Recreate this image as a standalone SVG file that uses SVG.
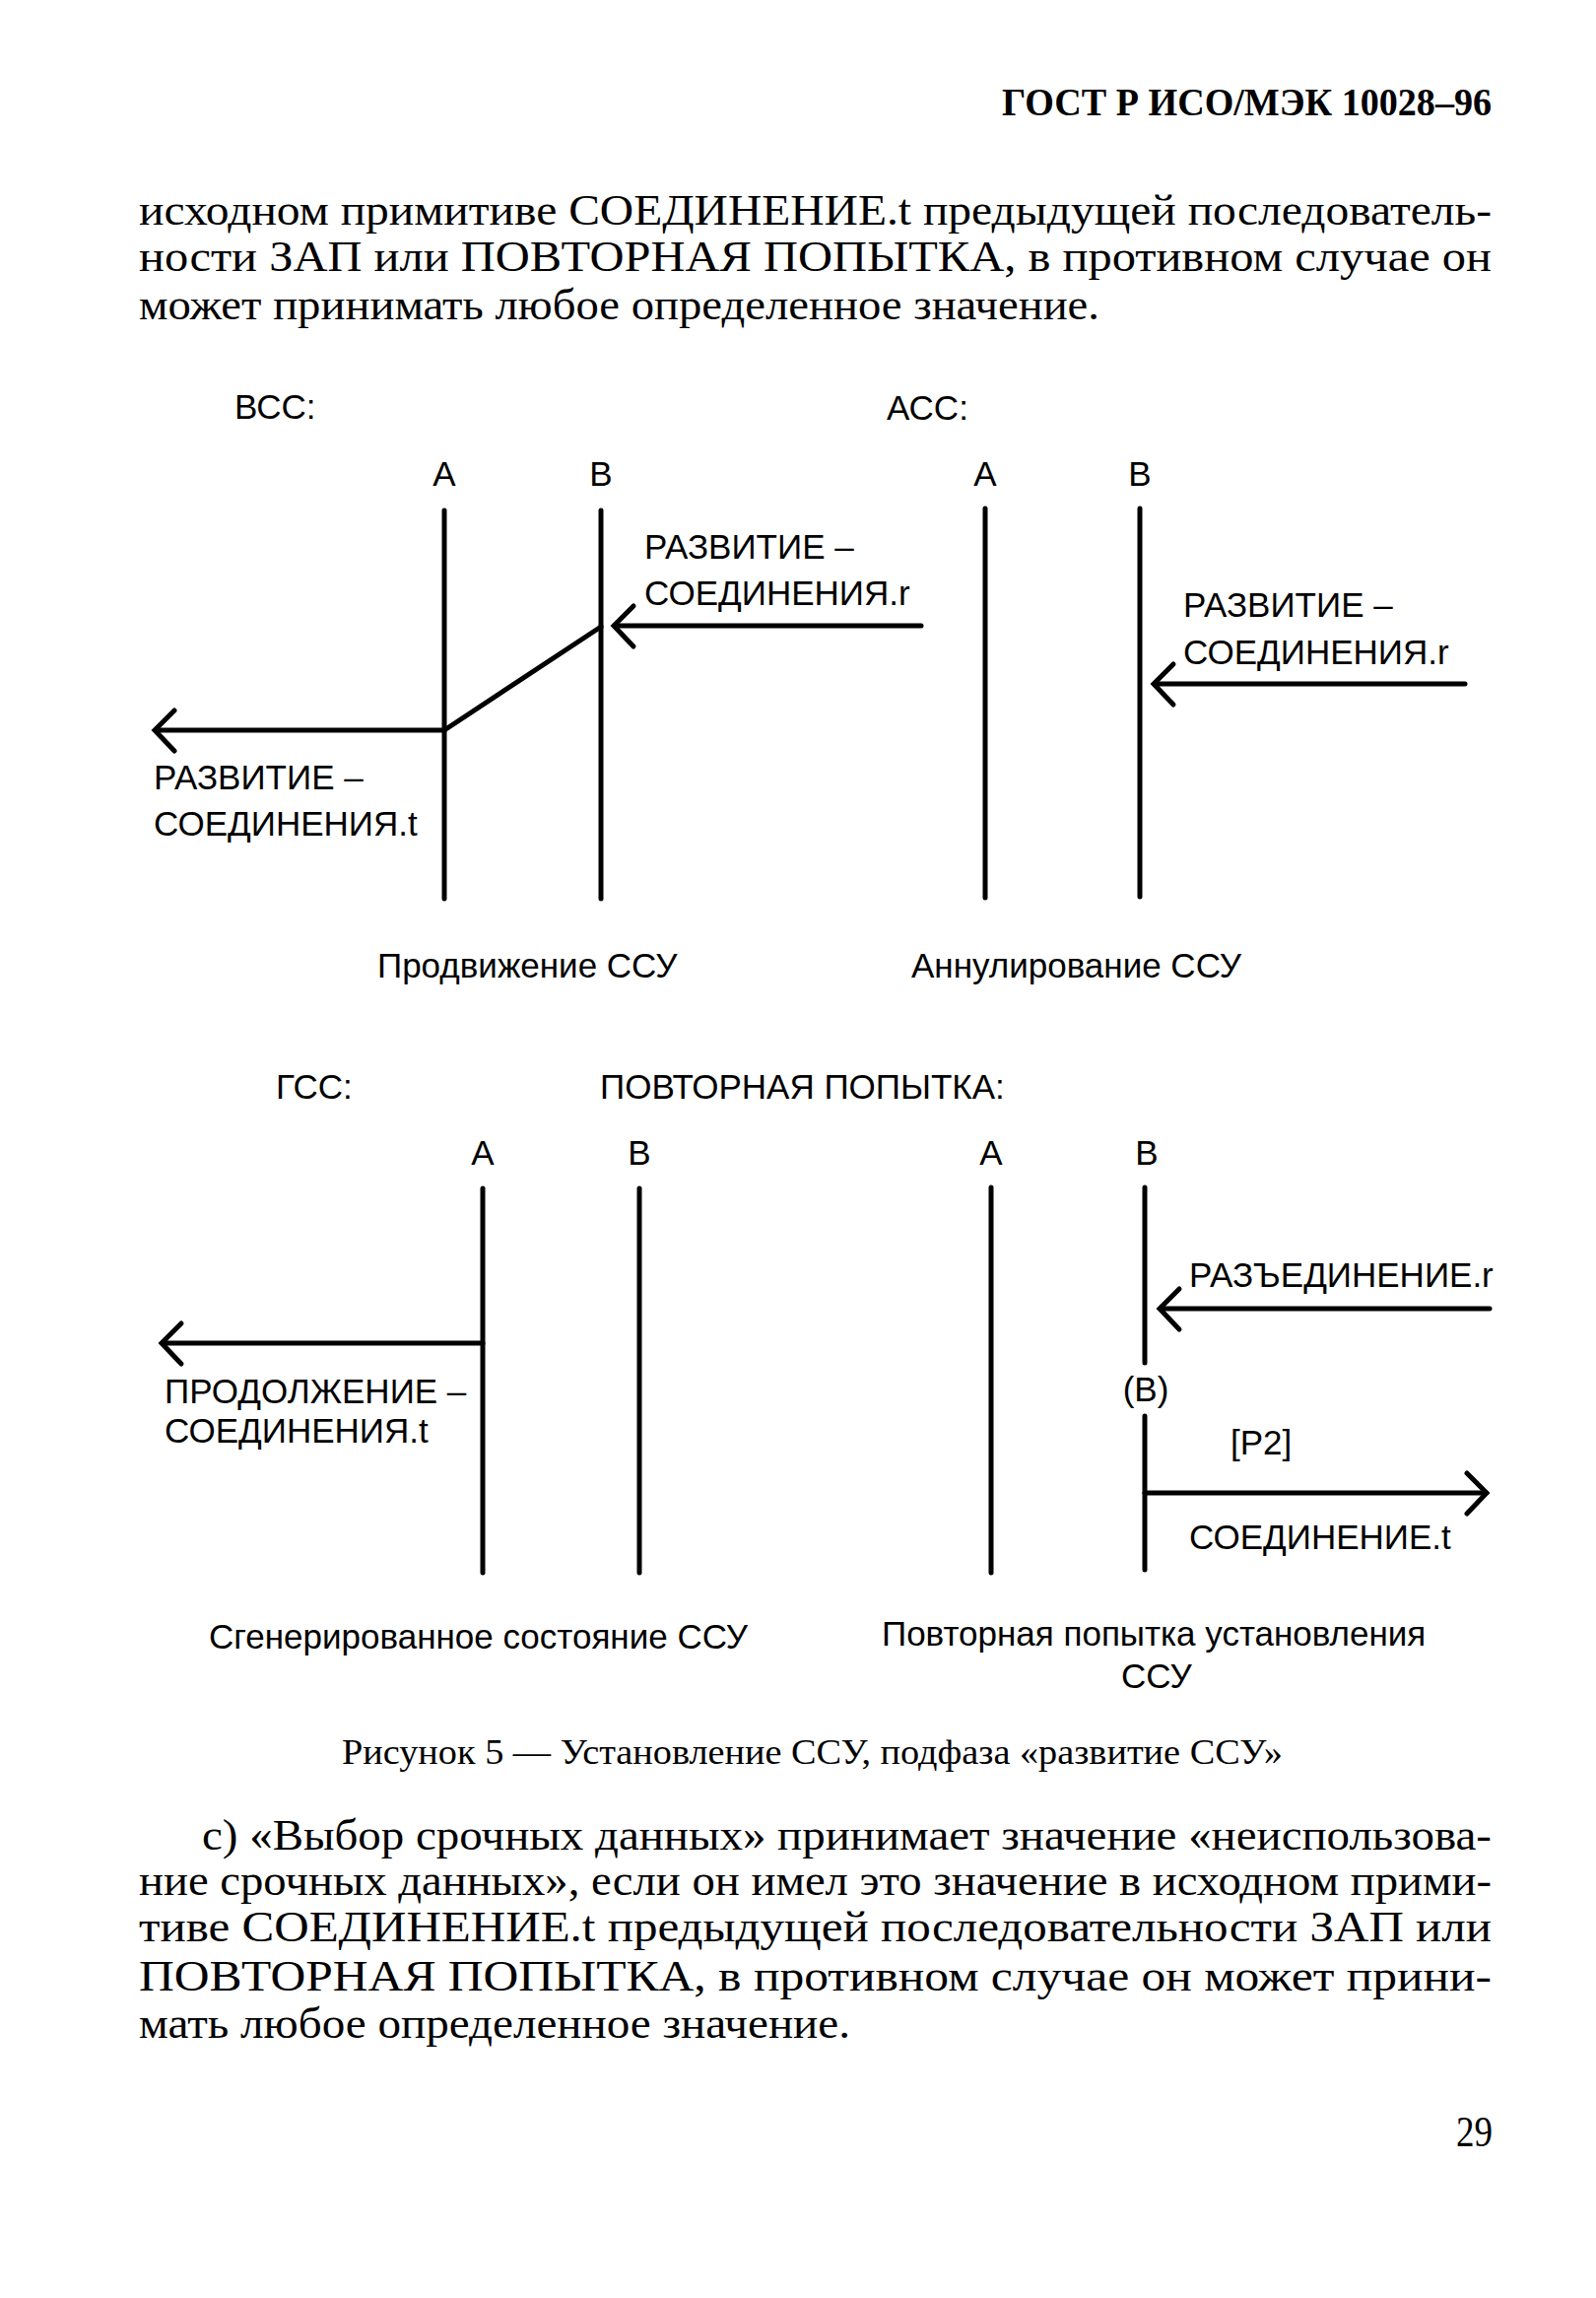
<svg xmlns="http://www.w3.org/2000/svg" width="1620" height="2332" viewBox="0 0 1620 2332">
<style>
.body{font-family:"Liberation Serif","Times New Roman",serif;font-size:44px;fill:#000}
.hdr{font-family:"Liberation Serif","Times New Roman",serif;font-size:40px;font-weight:bold;fill:#000}
.cap{font-family:"Liberation Serif","Times New Roman",serif;font-size:36px;fill:#000}
.lbl{font-family:"Liberation Sans",Arial,sans-serif;font-size:35px;fill:#000}
.mid{text-anchor:middle}
.ll{stroke:#000;stroke-width:5;fill:none;stroke-linecap:round}
.ar{stroke:#000;stroke-width:5;fill:none;stroke-linecap:round;stroke-linejoin:miter}
</style>
<rect width="1620" height="2332" fill="#fff"/>

<g id="page-text">
<text class="hdr" x="1017" y="117" textLength="497" lengthAdjust="spacingAndGlyphs">ГОСТ Р ИСО/МЭК 10028–96</text>
<text class="body" x="141" y="228" textLength="1373" lengthAdjust="spacingAndGlyphs">исходном примитиве СОЕДИНЕНИЕ.t предыдущей последователь-</text>
<text class="body" x="141" y="275" textLength="1373" lengthAdjust="spacingAndGlyphs">ности ЗАП или ПОВТОРНАЯ ПОПЫТКА, в противном случае он</text>
<text class="body" x="141" y="324" textLength="975" lengthAdjust="spacingAndGlyphs">может принимать любое определенное значение.</text>
</g>

<g id="bcc">
<text class="lbl" x="238" y="425">ВСС:</text>
<text class="lbl mid" x="451" y="493">А</text>
<text class="lbl mid" x="610" y="493">В</text>
<line class="ll" x1="451" y1="518" x2="451" y2="912"/>
<line class="ll" x1="610" y1="518" x2="610" y2="912"/>
<text class="lbl" x="654" y="567">РАЗВИТИЕ –</text>
<text class="lbl" x="654" y="614">СОЕДИНЕНИЯ.r</text>
<text class="lbl" x="156" y="801">РАЗВИТИЕ –</text>
<text class="lbl" x="156" y="848">СОЕДИНЕНИЯ.t</text>
<text class="lbl" x="383" y="992">Продвижение ССУ</text>
</g>

<g id="acc">
<text class="lbl" x="900" y="426">АСС:</text>
<text class="lbl mid" x="1000" y="493">А</text>
<text class="lbl mid" x="1157" y="493">В</text>
<line class="ll" x1="1000" y1="516" x2="1000" y2="911"/>
<line class="ll" x1="1157" y1="516" x2="1157" y2="910"/>
<text class="lbl" x="1201" y="626">РАЗВИТИЕ –</text>
<text class="lbl" x="1201" y="674">СОЕДИНЕНИЯ.r</text>
<text class="lbl" x="925" y="992">Аннулирование ССУ</text>
</g>

<g id="gcc">
<text class="lbl" x="280" y="1115">ГСС:</text>
<text class="lbl mid" x="490" y="1182">А</text>
<text class="lbl mid" x="649" y="1182">В</text>
<line class="ll" x1="490" y1="1206" x2="490" y2="1596"/>
<line class="ll" x1="649" y1="1206" x2="649" y2="1596"/>
<text class="lbl" x="167" y="1424">ПРОДОЛЖЕНИЕ –</text>
<text class="lbl" x="167" y="1464">СОЕДИНЕНИЯ.t</text>
<text class="lbl" x="212" y="1673">Сгенерированное состояние ССУ</text>
</g>

<g id="retry">
<text class="lbl" x="609" y="1115">ПОВТОРНАЯ ПОПЫТКА:</text>
<text class="lbl mid" x="1006" y="1182">А</text>
<text class="lbl mid" x="1164" y="1182">В</text>
<line class="ll" x1="1006" y1="1205" x2="1006" y2="1596"/>
<line class="ll" x1="1162" y1="1205" x2="1162" y2="1383"/>
<text class="lbl mid" x="1163" y="1422">(В)</text>
<line class="ll" x1="1162" y1="1437" x2="1162" y2="1593"/>
<text class="lbl" x="1207" y="1306">РАЗЪЕДИНЕНИЕ.r</text>
<text class="lbl" x="1249" y="1476">[P2]</text>
<text class="lbl" x="1207" y="1572">СОЕДИНЕНИЕ.t</text>
<text class="lbl" x="895" y="1670">Повторная попытка установления</text>
<text class="lbl" x="1138" y="1713">ССУ</text>
</g>

<g id="connectors">
<line class="ar" x1="935" y1="635" x2="624" y2="635"/>
<polyline class="ar" points="643,615 623,635 643,656"/>
<line class="ar" x1="610" y1="636" x2="451" y2="741"/>
<line class="ar" x1="451" y1="741" x2="158" y2="741"/>
<polyline class="ar" points="177,721 157,741 177,762"/>
<line class="ar" x1="1487" y1="694" x2="1172" y2="694"/>
<polyline class="ar" points="1191,674 1171,694 1191,715"/>
<line class="ar" x1="490" y1="1363" x2="165" y2="1363"/>
<polyline class="ar" points="184,1343 164,1363 184,1384"/>
<line class="ar" x1="1512" y1="1328" x2="1178" y2="1328"/>
<polyline class="ar" points="1197,1308 1177,1328 1197,1349"/>
<line class="ar" x1="1162" y1="1515" x2="1508" y2="1515"/>
<polyline class="ar" points="1489,1495 1509,1515 1489,1536"/>
</g>

<g id="caption-text">
<text class="cap" x="347" y="1790" textLength="955" lengthAdjust="spacingAndGlyphs">Рисунок 5 — Установление ССУ, подфаза «развитие ССУ»</text>
<text class="body" x="205" y="1877" textLength="1309" lengthAdjust="spacingAndGlyphs">с) «Выбор срочных данных» принимает значение «неиспользова-</text>
<text class="body" x="141" y="1923" textLength="1373" lengthAdjust="spacingAndGlyphs">ние срочных данных», если он имел это значение в исходном прими-</text>
<text class="body" x="141" y="1970" textLength="1373" lengthAdjust="spacingAndGlyphs">тиве СОЕДИНЕНИЕ.t предыдущей последовательности ЗАП или</text>
<text class="body" x="141" y="2020" textLength="1373" lengthAdjust="spacingAndGlyphs">ПОВТОРНАЯ ПОПЫТКА,  в противном случае он может прини-</text>
<text class="body" x="141" y="2068" textLength="722" lengthAdjust="spacingAndGlyphs">мать любое определенное значение.</text>
<text class="body" x="1478" y="2178" textLength="37" lengthAdjust="spacingAndGlyphs">29</text>
</g>
</svg>
